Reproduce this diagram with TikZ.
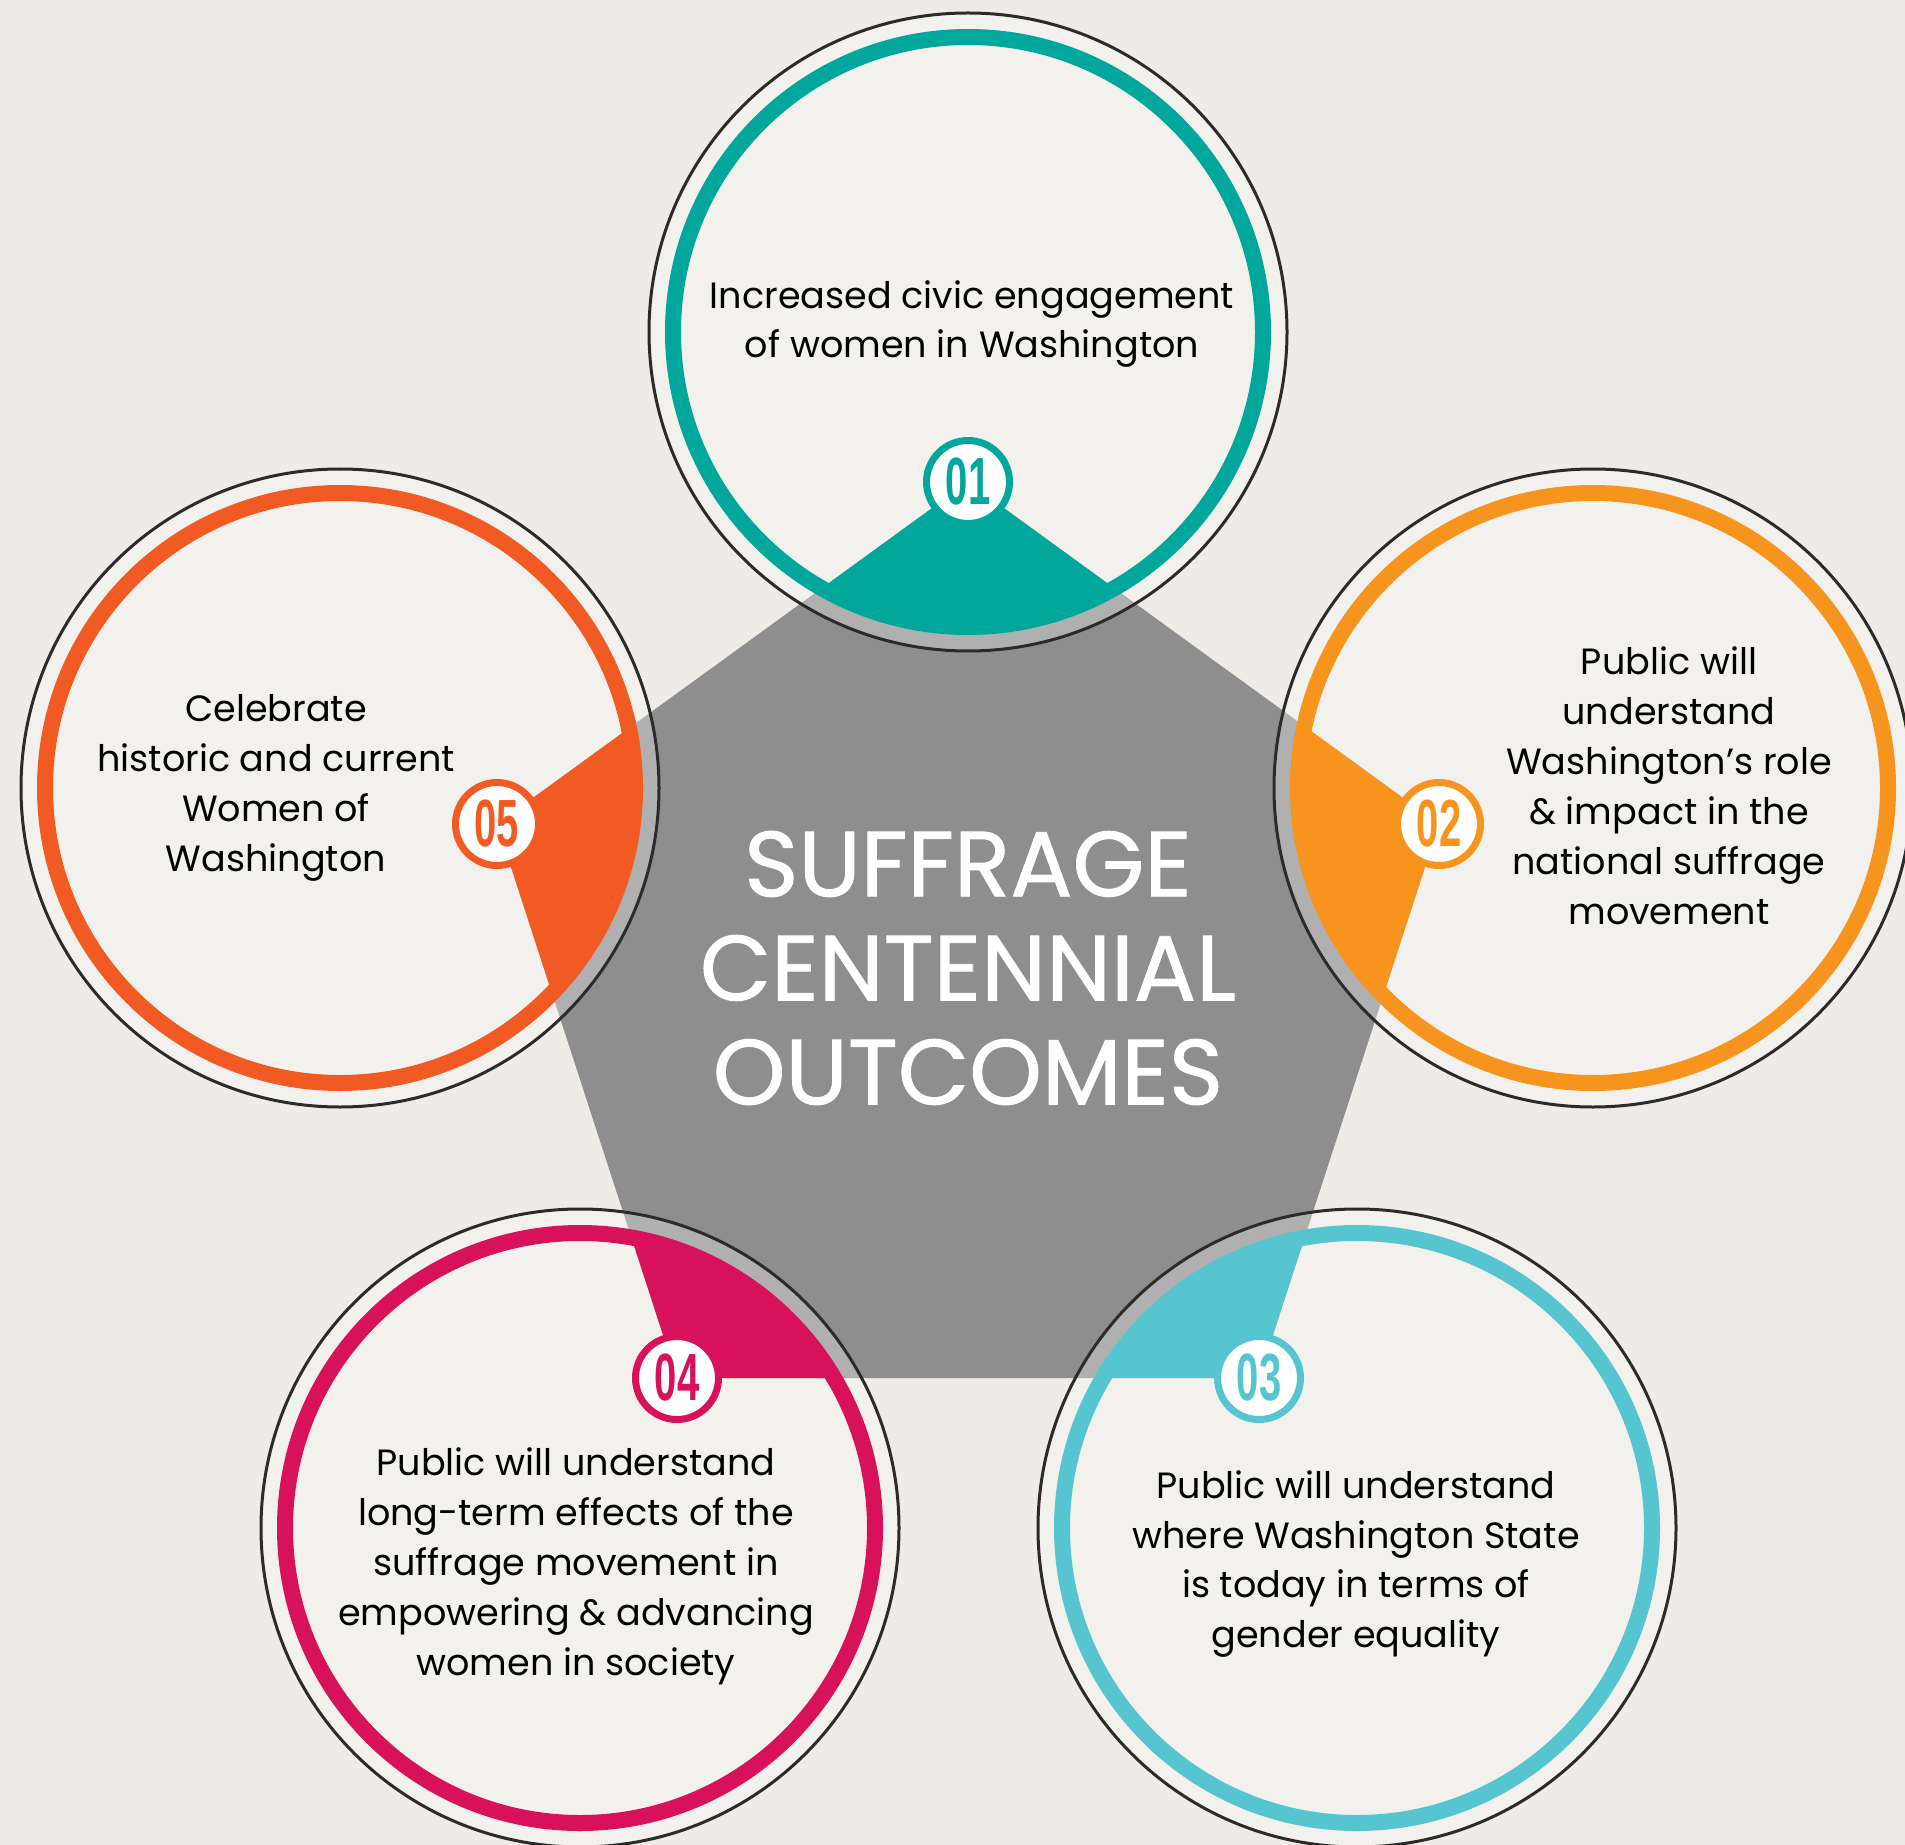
\documentclass[tikz,border=0pt]{standalone}
\usepackage{fontspec}
\setmainfont{Poppins}
\newfontfamily\titlefont{Poppins}[FakeBold=1]
\newfontfamily\numfont{Liberation Sans}
\definecolor{paper}{HTML}{EFECE7}
\definecolor{slate}{HTML}{8E8E8E}
\definecolor{rim}{HTML}{2B2B2B}
\definecolor{civic}{HTML}{00A79A}
\definecolor{role}{HTML}{F7941E}
\definecolor{today}{HTML}{56C5D0}
\definecolor{effect}{HTML}{D7125B}
\definecolor{honour}{HTML}{F15A22}
\newcommand{\badgenum}[1]{\scalebox{0.6}[1]{#1}}
\tikzset{
  halo/.style={fill=white,fill opacity=0.3},
  rimline/.style={draw=rim,line width=0.03cm},
  band/.style={line width=0.16cm},
  outcome/.style={align=center,text=black,font=\fontsize{10.4}{14.2}\selectfont},
  badge/.style={circle,fill=white,draw=#1,text=#1,line width=0.07cm,minimum size=0.83cm,inner sep=0pt,font=\numfont\bfseries\fontsize{19}{19}\selectfont}
}
\begin{document}
\begin{tikzpicture}
    \fill[paper] (0,0) rectangle (19.05,-18.45);
    \useasboundingbox (0,0) rectangle (19.05,-18.45);
    \coordinate (v1) at (9.68,-4.82);
    \coordinate (v2) at (14.39,-8.24);
    \coordinate (v3) at (12.59,-13.78);
    \coordinate (v4) at (6.77,-13.78);
    \coordinate (v5) at (4.97,-8.24);
    \coordinate (c1) at (9.68,-3.32);
    \coordinate (c2) at (15.93,-7.88);
    \coordinate (c3) at (13.57,-15.28);
    \coordinate (c4) at (5.80,-15.28);
    \coordinate (c5) at (3.40,-7.88);
    \fill[slate] (v1)--(v2)--(v3)--(v4)--(v5)--cycle;
    \fill[halo] (c1) circle (3.19);
    \fill[halo] (c2) circle (3.19);
    \fill[halo] (c3) circle (3.19);
    \fill[halo] (c4) circle (3.19);
    \fill[halo] (c5) circle (3.19);
    \begin{scope}
        \clip (c1) circle (2.95);
        \fill[civic] (v1)--(v2)--(v3)--(v4)--(v5)--cycle;
    \end{scope}
    \begin{scope}
        \clip (c2) circle (2.95);
        \fill[role] (v1)--(v2)--(v3)--(v4)--(v5)--cycle;
    \end{scope}
    \begin{scope}
        \clip (c3) circle (2.95);
        \fill[today] (v1)--(v2)--(v3)--(v4)--(v5)--cycle;
    \end{scope}
    \begin{scope}
        \clip (c4) circle (2.95);
        \fill[effect] (v1)--(v2)--(v3)--(v4)--(v5)--cycle;
    \end{scope}
    \begin{scope}
        \clip (c5) circle (2.95);
        \fill[honour] (v1)--(v2)--(v3)--(v4)--(v5)--cycle;
    \end{scope}
    \draw[band,civic] (c1) circle (2.95);
    \draw[band,role] (c2) circle (2.95);
    \draw[band,today] (c3) circle (2.95);
    \draw[band,effect] (c4) circle (2.95);
    \draw[band,honour] (c5) circle (2.95);
    \draw[rimline] (c1) circle (3.19);
    \draw[rimline] (c2) circle (3.19);
    \draw[rimline] (c3) circle (3.19);
    \draw[rimline] (c4) circle (3.19);
    \draw[rimline] (c5) circle (3.19);
    \node[white,align=center,font=\titlefont\fontsize{26.3}{29.6}\selectfont] (title) at (9.68,-9.68) {SUFFRAGE\\CENTENNIAL\\OUTCOMES};
    \node[outcome] (t1) at (9.72,-3.24) {Increased civic engagement\\of women in Washington};
    \node[outcome] (t2) at (16.69,-7.86) {Public will\\understand\\Washington’s role\\\& impact in the\\national suffrage\\movement};
    \node[outcome] (t3) at (13.56,-15.64) {Public will understand\\where Washington State\\is today in terms of\\gender equality};
    \node[outcome] (t4) at (5.76,-15.66) {Public will understand\\long-term effects of the\\suffrage movement in\\empowering \& advancing\\women in society};
    \node[outcome] (t5) at (2.76,-7.88) {Celebrate\\historic and current\\Women of\\Washington};
    \node[badge=civic] (b1) at (v1) {\badgenum{01}};
    \node[badge=role] (b2) at (v2) {\badgenum{02}};
    \node[badge=today] (b3) at (v3) {\badgenum{03}};
    \node[badge=effect] (b4) at (v4) {\badgenum{04}};
    \node[badge=honour] (b5) at (v5) {\badgenum{05}};
\end{tikzpicture}
\end{document}
